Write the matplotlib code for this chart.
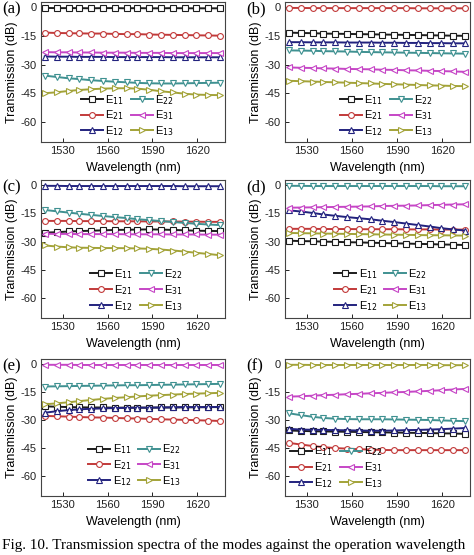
import matplotlib
matplotlib.use("Agg")
import matplotlib.pyplot as plt

plt.rcParams['font.family'] = ['Liberation Sans', 'DejaVu Sans']

wavelength = [1518, 1526, 1534, 1541, 1549, 1557, 1565, 1573, 1580, 1588,
              1596, 1604, 1612, 1619, 1627, 1635]

mode_labels = ["E$_{11}$", "E$_{21}$", "E$_{12}$", "E$_{22}$", "E$_{31}$", "E$_{13}$"]
mode_colors = ["#1c1c1c", "#c23a3a", "#22227e", "#3f9191", "#c646c6", "#a3a338"]
mode_markers = ["s", "o", "^", "v", "<", ">"]

# panel (a)
a_E11 = [-0.4, -0.5, -0.5, -0.5, -0.6, -0.5, -0.5, -0.6, -0.5, -0.6, -0.6, -0.5, -0.6, -0.6, -0.6, -0.6]
a_E21 = [-13.3, -13.5, -13.6, -13.7, -13.8, -13.8, -14.0, -14.1, -14.1, -14.3, -14.4, -14.5, -14.6, -14.7, -14.8, -14.9]
a_E12 = [-25.8, -25.9, -25.9, -26.0, -26.0, -26.0, -26.1, -26.1, -26.1, -26.1, -26.1, -26.2, -26.2, -26.2, -26.2, -26.2]
a_E22 = [-35.8, -36.5, -37.2, -37.6, -38.2, -38.6, -39.0, -39.3, -39.6, -39.8, -39.9, -39.9, -39.8, -39.7, -39.6, -39.5]
a_E31 = [-23.5, -23.6, -23.6, -23.7, -23.7, -23.8, -23.8, -23.8, -23.9, -23.9, -23.9, -24.0, -24.0, -24.0, -24.0, -24.0]
a_E13 = [-45.0, -44.5, -43.8, -43.3, -42.9, -42.6, -42.4, -42.4, -42.6, -43.2, -44.0, -44.6, -45.3, -45.7, -45.9, -46.0]

# panel (b)
b_E11 = [-13.3, -13.5, -13.6, -13.8, -13.9, -14.0, -14.1, -14.2, -14.3, -14.4, -14.5, -14.6, -14.7, -14.8, -14.9, -15.0]
b_E21 = [-0.4, -0.4, -0.5, -0.5, -0.5, -0.5, -0.5, -0.5, -0.5, -0.5, -0.5, -0.6, -0.6, -0.6, -0.6, -0.6]
b_E12 = [-18.3, -18.3, -18.4, -18.4, -18.4, -18.5, -18.5, -18.5, -18.6, -18.6, -18.7, -18.7, -18.8, -18.8, -18.9, -18.9]
b_E22 = [-22.6, -22.7, -22.8, -23.0, -23.1, -23.2, -23.4, -23.5, -23.6, -23.7, -23.8, -23.9, -24.0, -24.1, -24.2, -24.3]
b_E31 = [-31.5, -31.7, -31.8, -32.0, -32.1, -32.3, -32.4, -32.5, -32.7, -32.8, -33.0, -33.1, -33.3, -33.4, -33.6, -33.8]
b_E13 = [-38.5, -38.7, -38.9, -39.1, -39.3, -39.5, -39.7, -39.9, -40.1, -40.3, -40.5, -40.7, -40.9, -41.0, -41.2, -41.3]

# panel (c)
c_E11 = [-25.2, -25.0, -24.6, -24.4, -24.2, -24.0, -23.8, -23.7, -23.6, -23.5, -23.6, -23.8, -24.0, -24.2, -24.3, -24.4]
c_E21 = [-19.0, -19.0, -19.0, -19.1, -19.1, -19.1, -19.2, -19.2, -19.2, -19.3, -19.3, -19.3, -19.4, -19.4, -19.5, -19.5]
c_E12 = [-0.4, -0.4, -0.5, -0.5, -0.5, -0.5, -0.5, -0.5, -0.5, -0.5, -0.5, -0.5, -0.6, -0.6, -0.6, -0.6]
c_E22 = [-13.2, -13.9, -14.6, -15.2, -15.8, -16.4, -17.0, -17.5, -18.1, -18.6, -19.1, -19.6, -20.1, -20.5, -20.9, -21.2]
c_E31 = [-25.8, -25.9, -25.9, -26.0, -26.0, -26.0, -26.0, -26.1, -26.1, -26.1, -26.1, -26.2, -26.2, -26.2, -26.3, -26.3]
c_E13 = [-32.0, -32.6, -33.0, -33.2, -33.3, -33.4, -33.4, -33.5, -33.6, -33.8, -34.2, -34.7, -35.3, -35.9, -36.5, -37.2]

# panel (d)
d_E11 = [-29.5, -29.7, -29.8, -30.0, -30.1, -30.3, -30.4, -30.6, -30.7, -30.9, -31.0, -31.2, -31.3, -31.5, -31.6, -31.8]
d_E21 = [-23.2, -23.2, -23.2, -23.3, -23.3, -23.3, -23.4, -23.4, -23.4, -23.4, -23.5, -23.5, -23.5, -23.6, -23.6, -23.6]
d_E12 = [-13.4, -14.0, -14.8, -15.6, -16.3, -17.0, -17.6, -18.2, -18.9, -19.6, -20.4, -21.2, -22.0, -22.8, -23.5, -24.1]
d_E22 = [-0.4, -0.4, -0.5, -0.5, -0.5, -0.5, -0.5, -0.5, -0.5, -0.5, -0.5, -0.5, -0.5, -0.6, -0.6, -0.6]
d_E31 = [-12.0, -11.9, -11.8, -11.7, -11.6, -11.5, -11.4, -11.3, -11.1, -11.0, -10.9, -10.8, -10.6, -10.5, -10.3, -10.2]
d_E13 = [-25.4, -25.5, -25.6, -25.7, -25.8, -25.9, -26.0, -26.1, -26.2, -26.3, -26.4, -26.5, -26.6, -26.6, -26.7, -26.8]

# panel (e)
e_E11 = [-22.6, -22.8, -23.0, -23.1, -23.2, -23.2, -23.3, -23.3, -23.3, -23.3, -23.2, -23.2, -23.1, -23.1, -23.0, -23.0]
e_E21 = [-27.7, -27.9, -28.1, -28.3, -28.5, -28.6, -28.8, -29.0, -29.1, -29.3, -29.5, -29.7, -29.8, -30.0, -30.2, -30.4]
e_E12 = [-26.0, -25.2, -24.6, -24.2, -23.9, -23.7, -23.5, -23.4, -23.3, -23.3, -23.2, -23.1, -23.0, -23.0, -23.0, -22.9]
e_E22 = [-12.0, -11.9, -11.8, -11.7, -11.6, -11.5, -11.4, -11.3, -11.3, -11.2, -11.1, -11.0, -10.9, -10.8, -10.7, -10.6]
e_E31 = [-0.4, -0.4, -0.4, -0.5, -0.5, -0.5, -0.5, -0.5, -0.5, -0.5, -0.5, -0.5, -0.5, -0.5, -0.5, -0.5]
e_E13 = [-21.5, -21.0, -20.4, -19.8, -19.2, -18.6, -18.1, -17.7, -17.3, -16.9, -16.6, -16.3, -16.0, -15.8, -15.6, -15.4]

# panel (f)
f_E11 = [-35.5, -35.7, -35.9, -36.0, -36.1, -36.2, -36.3, -36.4, -36.5, -36.6, -36.7, -36.8, -36.9, -37.0, -37.1, -37.3]
f_E21 = [-42.1, -43.0, -43.8, -44.4, -44.9, -45.2, -45.5, -45.7, -45.9, -46.0, -46.0, -46.0, -46.0, -46.0, -46.0, -46.0]
f_E12 = [-34.6, -35.0, -35.1, -35.2, -35.3, -35.4, -35.5, -35.6, -35.6, -35.5, -35.3, -35.2, -35.0, -34.8, -34.5, -34.2]
f_E22 = [-26.3, -27.3, -28.2, -28.8, -29.2, -29.4, -29.5, -29.5, -29.5, -29.6, -29.7, -29.8, -29.9, -30.1, -30.3, -30.5]
f_E31 = [-17.4, -17.2, -16.9, -16.6, -16.4, -16.1, -15.9, -15.6, -15.4, -15.1, -14.9, -14.6, -14.3, -14.0, -13.6, -13.3]
f_E13 = [-0.4, -0.4, -0.5, -0.5, -0.5, -0.5, -0.5, -0.5, -0.5, -0.5, -0.5, -0.5, -0.5, -0.6, -0.6, -0.6]

panels = [
    ("(a)", [a_E11, a_E21, a_E12, a_E22, a_E31, a_E13]),
    ("(b)", [b_E11, b_E21, b_E12, b_E22, b_E31, b_E13]),
    ("(c)", [c_E11, c_E21, c_E12, c_E22, c_E31, c_E13]),
    ("(d)", [d_E11, d_E21, d_E12, d_E22, d_E31, d_E13]),
    ("(e)", [e_E11, e_E21, e_E12, e_E22, e_E31, e_E13]),
    ("(f)", [f_E11, f_E21, f_E12, f_E22, f_E31, f_E13]),
]

y_ticks = [0, -15, -30, -45, -60]
x_ticks = [1530, 1560, 1590, 1620]

W, H = 474, 555
fig = plt.figure(figsize=(W / 100, H / 100), dpi=100)

col_x = [(41, 184), (285, 185)]
row_y = [(2, 142), (180, 318), (359, 496)]
legend_anchor = [(0.18, -0.02), (0.26, -0.02), (0.23, -0.01), (0.23, -0.01), (0.22, 0.01), (-0.01, -0.005)]

for i, (plabel, series) in enumerate(panels):
    r, c = divmod(i, 2)
    x0, w = col_x[c]
    top, bot = row_y[r]
    ax = fig.add_axes([x0 / W, (H - bot) / H, w / W, (bot - top) / H])
    for vals, lab, col, mk in zip(series, mode_labels, mode_colors, mode_markers):
        ax.plot(wavelength, vals, color=col, lw=1.4, marker=mk, ms=4.2,
                mfc="white", mec=col, mew=0.8, label=lab)
    ax.set_xlim(1515.5, 1638.5)
    ax.set_ylim(-70.5, 2.7)
    ax.set_xticks(x_ticks)
    ax.set_yticks(y_ticks)
    ax.set_yticklabels([str(v) for v in y_ticks])
    ax.tick_params(direction="in", length=3, width=0.7, labelsize=8, pad=3, colors="#222222")
    for sp in ax.spines.values():
        sp.set_linewidth(0.8)
        sp.set_color("#444444")
    ax.set_xlabel("Wavelength (nm)", fontsize=9, labelpad=4)
    ax.set_ylabel("Transmission (dB)", fontsize=9, labelpad=2)
    ax.text(-0.21, 1 - 7.0 / (bot - top), plabel, transform=ax.transAxes, fontsize=12,
            family="Liberation Serif", ha="left", va="center")
    ax.legend(ncol=2, loc="lower left", bbox_to_anchor=legend_anchor[i],
              frameon=False, fontsize=8, handlelength=2.0, handletextpad=0.2,
              columnspacing=0.6, labelspacing=0.18, borderpad=0.1)

fig.text(0.004, (H - 545) / H, "Fig. 10. Transmission spectra of the modes against the operation wavelength",
         family="Liberation Serif", fontsize=10.9, ha="left", va="center")

fig.savefig("out.png", dpi=100)
